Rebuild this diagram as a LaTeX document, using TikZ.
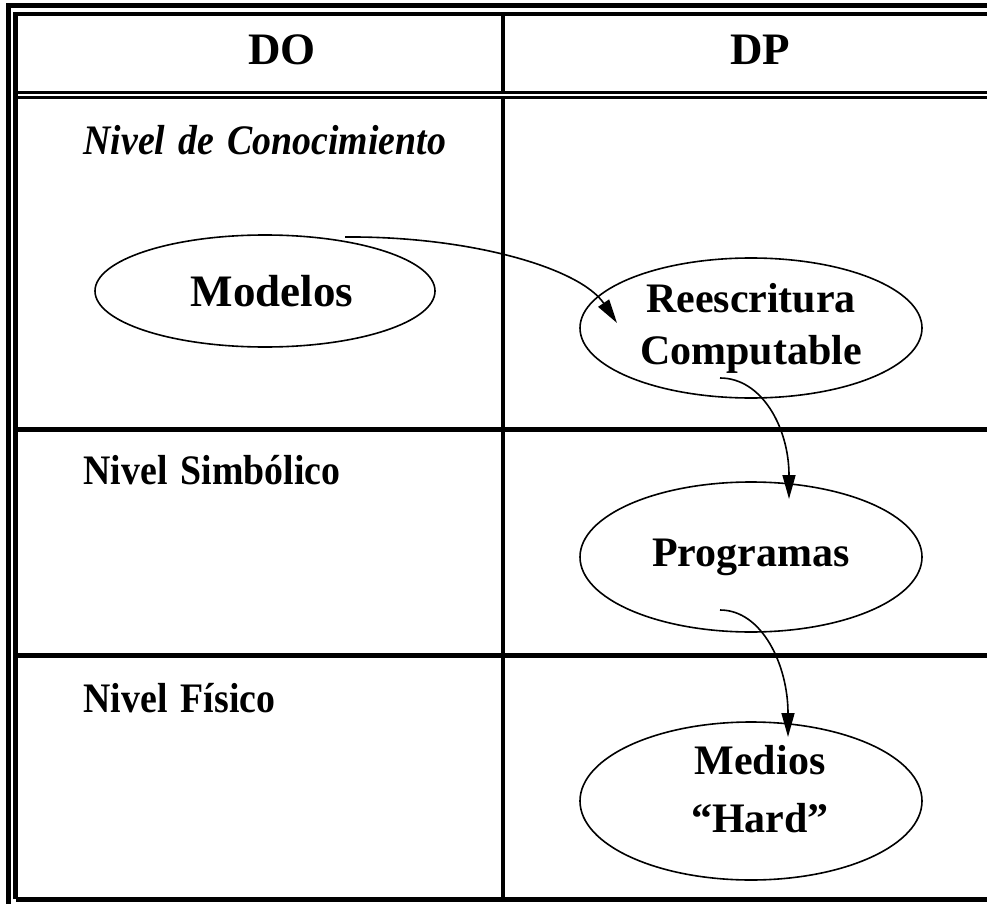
\documentclass[tikz,border=0pt]{standalone}
\usepackage{fontspec}
\setmainfont{Liberation Serif}
\newfontfamily\estrecha[FakeStretch=0.9, WordSpace=1.4]{Liberation Serif}
\usetikzlibrary{arrows.meta, shapes.geometric}

\begin{document}
\begin{tikzpicture}[x=1pt, y=-1pt,
    elipse/.style={draw, ellipse, line width=1.6pt, inner sep=0pt},
    texto/.style={font=\fontsize{42}{52}\selectfont\bfseries, align=center},
    fila/.style={font=\estrecha\fontsize{42}{52}\selectfont\bfseries, anchor=west},
    flecha/.style={-{Triangle[length=24pt, width=13pt]}, line width=1.6pt}]
    \useasboundingbox (0,0) rectangle (987,904);

    % Marco doble
    \draw[line width=5pt] (8,904) -- (8,6) -- (987,6);
    \draw[line width=4.5pt] (15.5,899) -- (15.5,14) -- (987,14);
    \draw[line width=5pt] (15.5,899) -- (987,899);

    % Cabecera y filas
    \draw[line width=3pt] (15.5,92.5) -- (987,92.5);
    \draw[line width=2.5pt] (15.5,97.5) -- (987,97.5);
    \draw[line width=4.5pt] (503,16) -- (503,91);
    \draw[line width=4.5pt] (503,99) -- (503,899);
    \draw[line width=5pt] (15.5,429.5) -- (987,429.5);
    \draw[line width=5pt] (15.5,655) -- (987,655);

    % Textos
    \node[texto, font=\fontsize{45}{54}\selectfont\bfseries] (do) at (282,50) {DO};
    \node[texto, font=\fontsize{45}{54}\selectfont\bfseries] (dp) at (760,50) {DP};
    \node[fila] (conoc) at (80,140) {\itshape Nivel de Conocimiento};
    \node[fila] (simb) at (80,470) {Nivel Simbólico};
    \node[fila] (fis) at (80,698) {Nivel Físico};

    % Elipses
    \node[elipse, minimum width=340pt, minimum height=112pt] (modelos) at (265,291) {};
    \node[texto, font=\fontsize{45}{54}\selectfont\bfseries] (modelostxt) at (272,291) {Modelos};
    \node[elipse, texto, minimum width=342pt, minimum height=140pt] (reescr) at (751,328) {Reescritura\\Computable};
    \node[elipse, texto, minimum width=342pt, minimum height=150pt] (progr) at (751,557) {Programas};
    \node[elipse, texto, minimum width=342pt, minimum height=158pt] (medios) at (751,801) {};
    \node[texto] (mediostxt) at (760,789) {Medios\\[6pt]“Hard”};

    % Flechas
    \coordinate (c1) at (345,237);
    \coordinate (c2) at (617,323);
    \coordinate (c3) at (720,378);
    \coordinate (c4) at (789,499);
    \coordinate (c5) at (720,610);
    \coordinate (c6) at (788,737);
    \draw[flecha] (c1) .. controls (470,236) and (580,268) .. (c2);
    \draw[flecha] (c3) .. controls (762,378) and (789,428) .. (c4);
    \draw[flecha] (c5) .. controls (762,610) and (788,665) .. (c6);
\end{tikzpicture}
\end{document}
